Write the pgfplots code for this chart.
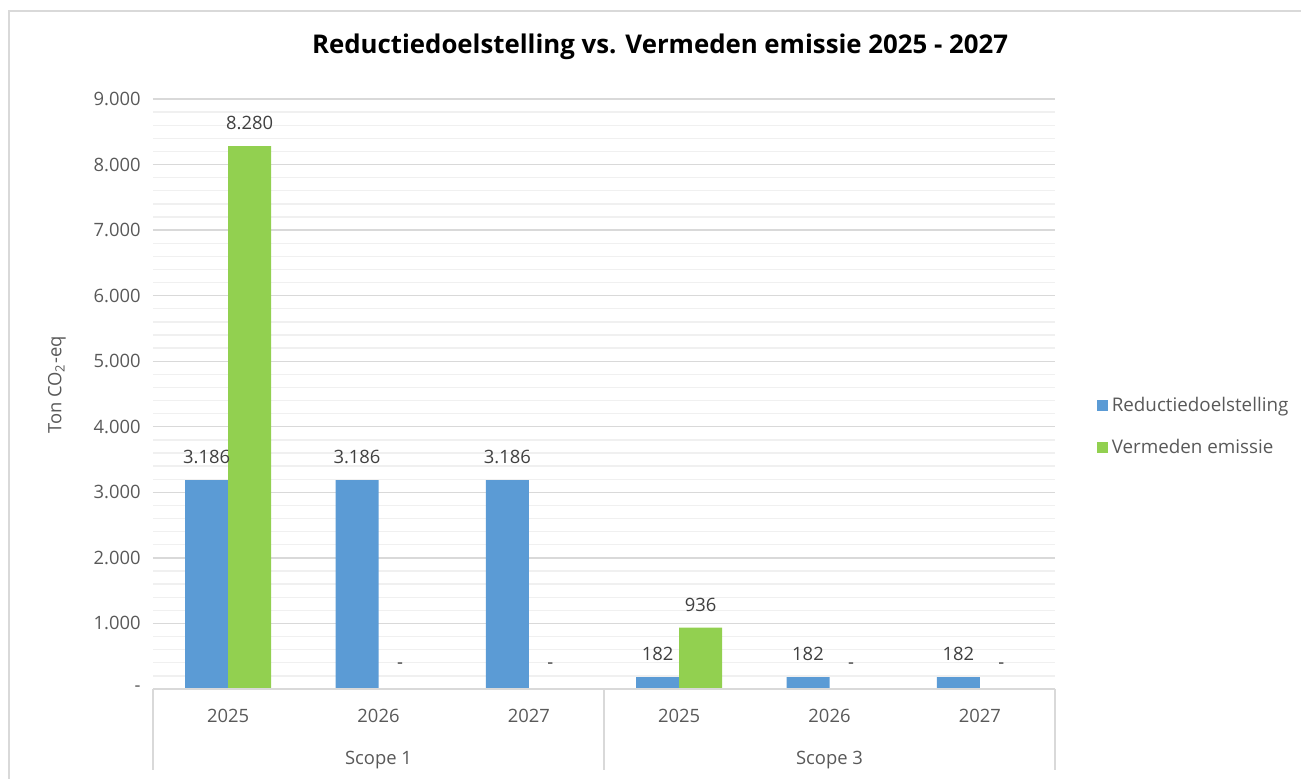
\documentclass[border=0pt]{standalone}
\usepackage{pgfplots}
\pgfplotsset{compat=1.18}
\usepackage{fontspec}
\setmainfont{Open Sans}
\definecolor{blueS}{HTML}{5B9BD5}
\definecolor{greenS}{HTML}{92D050}
\definecolor{txt}{HTML}{595959}
\definecolor{lbl}{HTML}{404040}
\definecolor{gridmaj}{HTML}{D9D9D9}
\definecolor{gridmin}{HTML}{F0F0F0}
\begin{document}
\begin{tikzpicture}[x=1pt,y=1pt]
\useasboundingbox (-76.5pt,-45pt) rectangle (574pt,344.5pt);
\draw[gridmaj, line width=0.8pt] (-72pt,-46pt) -- (-72pt,339pt) -- (575pt,339pt);
\begin{axis}[
  at={(0,0)}, anchor=south west,
  scale only axis, width=451pt, height=295pt,
  ybar=0pt, bar width=21.5pt,
  xmin=-0.5, xmax=5.5, ymin=0, ymax=9000,
  xtick={0,1,2,3,4,5},
  xticklabels={2025,2026,2027,2025,2026,2027},
  ytick={0,1000,2000,3000,4000,5000,6000,7000,8000,9000},
  yticklabels={-,1.000,2.000,3.000,4.000,5.000,6.000,7.000,8.000,9.000},
  minor y tick num=4,
  ymajorgrids, yminorgrids,
  major grid style={gridmaj, line width=0.7pt},
  minor grid style={gridmin, line width=0.7pt},
  axis line style={draw=none},
  major tick length=0pt, minor tick length=0pt,
  tick style={draw=none},
  ticklabel style={font=\fontsize{9.2}{11}\selectfont, text=txt},
  yticklabel style={inner sep=0pt, xshift=-6pt},
  xticklabel style={inner sep=0pt, anchor=center, yshift=-13.5pt},
  point meta=explicit symbolic,
  nodes near coords,
  every node near coord/.append style={font=\fontsize{9.2}{11}\selectfont, text=lbl, anchor=center, yshift=11.5pt, inner sep=0pt},
  legend style={at={(axis description cs:1,0.445)}, anchor=west, xshift=21pt,
    draw=none, fill=none, font=\fontsize{9.4}{11}\selectfont, text=txt,
    row sep=8.3pt, inner sep=0pt},
  legend cell align=left,
  legend image code/.code={\fill[#1] (0pt,-2.6pt) rectangle (5.2pt,2.6pt);},
  clip=false,
]
\addplot[draw=none, fill=blueS] coordinates {
  (0,3186) [3.186] (1,3186) [3.186] (2,3186) [3.186]
  (3,182) [182] (4,182) [182] (5,182) [182]};
\addlegendentry{Reductiedoelstelling}
\addplot[draw=none, fill=greenS] coordinates {
  (0,8280) [8.280] (1,0) [-] (2,0) [-]
  (3,936) [936] (4,0) [-] (5,0) [-]};
\addlegendentry{Vermeden emissie}
\draw[gridmaj, line width=0.7pt] (axis cs:-0.5,0) -- (axis cs:5.5,0);
\draw[gridmaj, line width=0.7pt] (axis cs:-0.5,0) -- ([yshift=-40.5pt]axis cs:-0.5,0);
\draw[gridmaj, line width=0.7pt] (axis cs:2.5,0) -- ([yshift=-40.5pt]axis cs:2.5,0);
\draw[gridmaj, line width=0.7pt] (axis cs:5.5,0) -- ([yshift=-40.5pt]axis cs:5.5,0);
\node[font=\fontsize{9.2}{11}\selectfont, text=txt] at ([yshift=-35.3pt]axis cs:1,0) {Scope 1};
\node[font=\fontsize{9.2}{11}\selectfont, text=txt] at ([yshift=-35.3pt]axis cs:4,0) {Scope 3};
\end{axis}
\node[font=\bfseries\fontsize{12.9}{15}\selectfont] at (253.5pt,321pt) {Reductiedoelstelling vs. Vermeden emissie 2025 - 2027};
\node[rotate=90, font=\fontsize{9.2}{11}\selectfont, text=txt] at (-48pt,152pt) {Ton CO\textsubscript{2}-eq};
\end{tikzpicture}
\end{document}
